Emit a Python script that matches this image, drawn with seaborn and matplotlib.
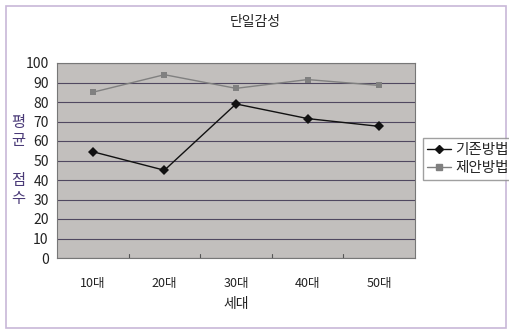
import matplotlib
matplotlib.use("Agg")
import matplotlib.pyplot as plt
import matplotlib.patches as mpatches
import seaborn as sns
import pandas as pd

categories = ["10대", "20대", "30대", "40대", "50대"]
existing = [54.5, 45, 79, 71.5, 67.5]
proposed = [85, 94, 87, 91.5, 88.5]
series_names = ["기존방법", "제안방법"]
yticks = [0, 10, 20, 30, 40, 50, 60, 70, 80, 90, 100]

df = pd.DataFrame({
    "세대": categories * 2,
    "점수": existing + proposed,
    "방법": [series_names[0]] * 5 + [series_names[1]] * 5,
})

sns.set_style("white")
plt.rcParams['font.family'] = ['Noto Sans CJK KR', 'DejaVu Sans']

fig = plt.figure(figsize=(5.1, 3.32), dpi=100)
ax = fig.add_axes([57/510, 1 - 258/332, (415-57)/510, (258-63)/332])
ax.set_facecolor("#c2bfbd")

sns.lineplot(data=df, x="세대", y="점수", hue="방법", style="방법",
             palette={series_names[0]: "#111111", series_names[1]: "#808080"},
             markers={series_names[0]: "D", series_names[1]: "s"},
             dashes=False, markersize=5, linewidth=1.0, sort=False,
             markeredgewidth=0, ax=ax, legend=False)

ax.set_xlim(-0.5, 4.5)
ax.set_ylim(0, 100)
ax.set_yticks(yticks)
ax.set_yticklabels([str(v) for v in yticks], fontsize=10, color="#222222")
ax.tick_params(axis="y", length=0, pad=6)
ax.tick_params(axis="x", length=0, pad=14, labelsize=9)
for lbl in ax.get_xticklabels():
    lbl.set_color("#222222")
ax.grid(axis="y", color="#504860", linewidth=0.8)
ax.set_axisbelow(True)
for s in ax.spines.values():
    s.set_color("#777777")
    s.set_linewidth(0.8)
# inner ticks between categories
for b in [0.5, 1.5, 2.5, 3.5]:
    ax.plot([b, b], [0, 2], color="#555555", lw=0.8, clip_on=False)

ax.set_xlabel("세대", fontsize=10, color="#222222", labelpad=5)
ax.set_ylabel("")

# vertical stacked y-label
for ch, yy in zip("평균점수", [122, 141, 180, 198]):
    fig.text(18/510, 1 - yy/332, ch, fontsize=11, color="#4a3a78",
             ha="center", va="center")

fig.text(255/510, 1 - 22/332, "단일감성", fontsize=10, color="#222222",
         ha="center", va="center")

handles = [
    plt.Line2D([], [], color="#111111", marker="D", markersize=4, lw=1),
    plt.Line2D([], [], color="#808080", marker="s", markersize=4, lw=1),
]
fig.legend(handles, series_names, loc="center left",
           bbox_to_anchor=(423/510, 1 - 159/332), fontsize=10.5,
           frameon=True, fancybox=False, edgecolor="#888888",
           handlelength=1.6, handletextpad=0.3, borderpad=0.3,
           labelspacing=0.3, borderaxespad=0)

fig.patches.append(mpatches.Rectangle((6/510, 4/332), 500/510, 322/332,
                                      transform=fig.transFigure, fill=False,
                                      edgecolor="#c8b8d8", lw=1.2))

fig.savefig("out.png", dpi=100)
